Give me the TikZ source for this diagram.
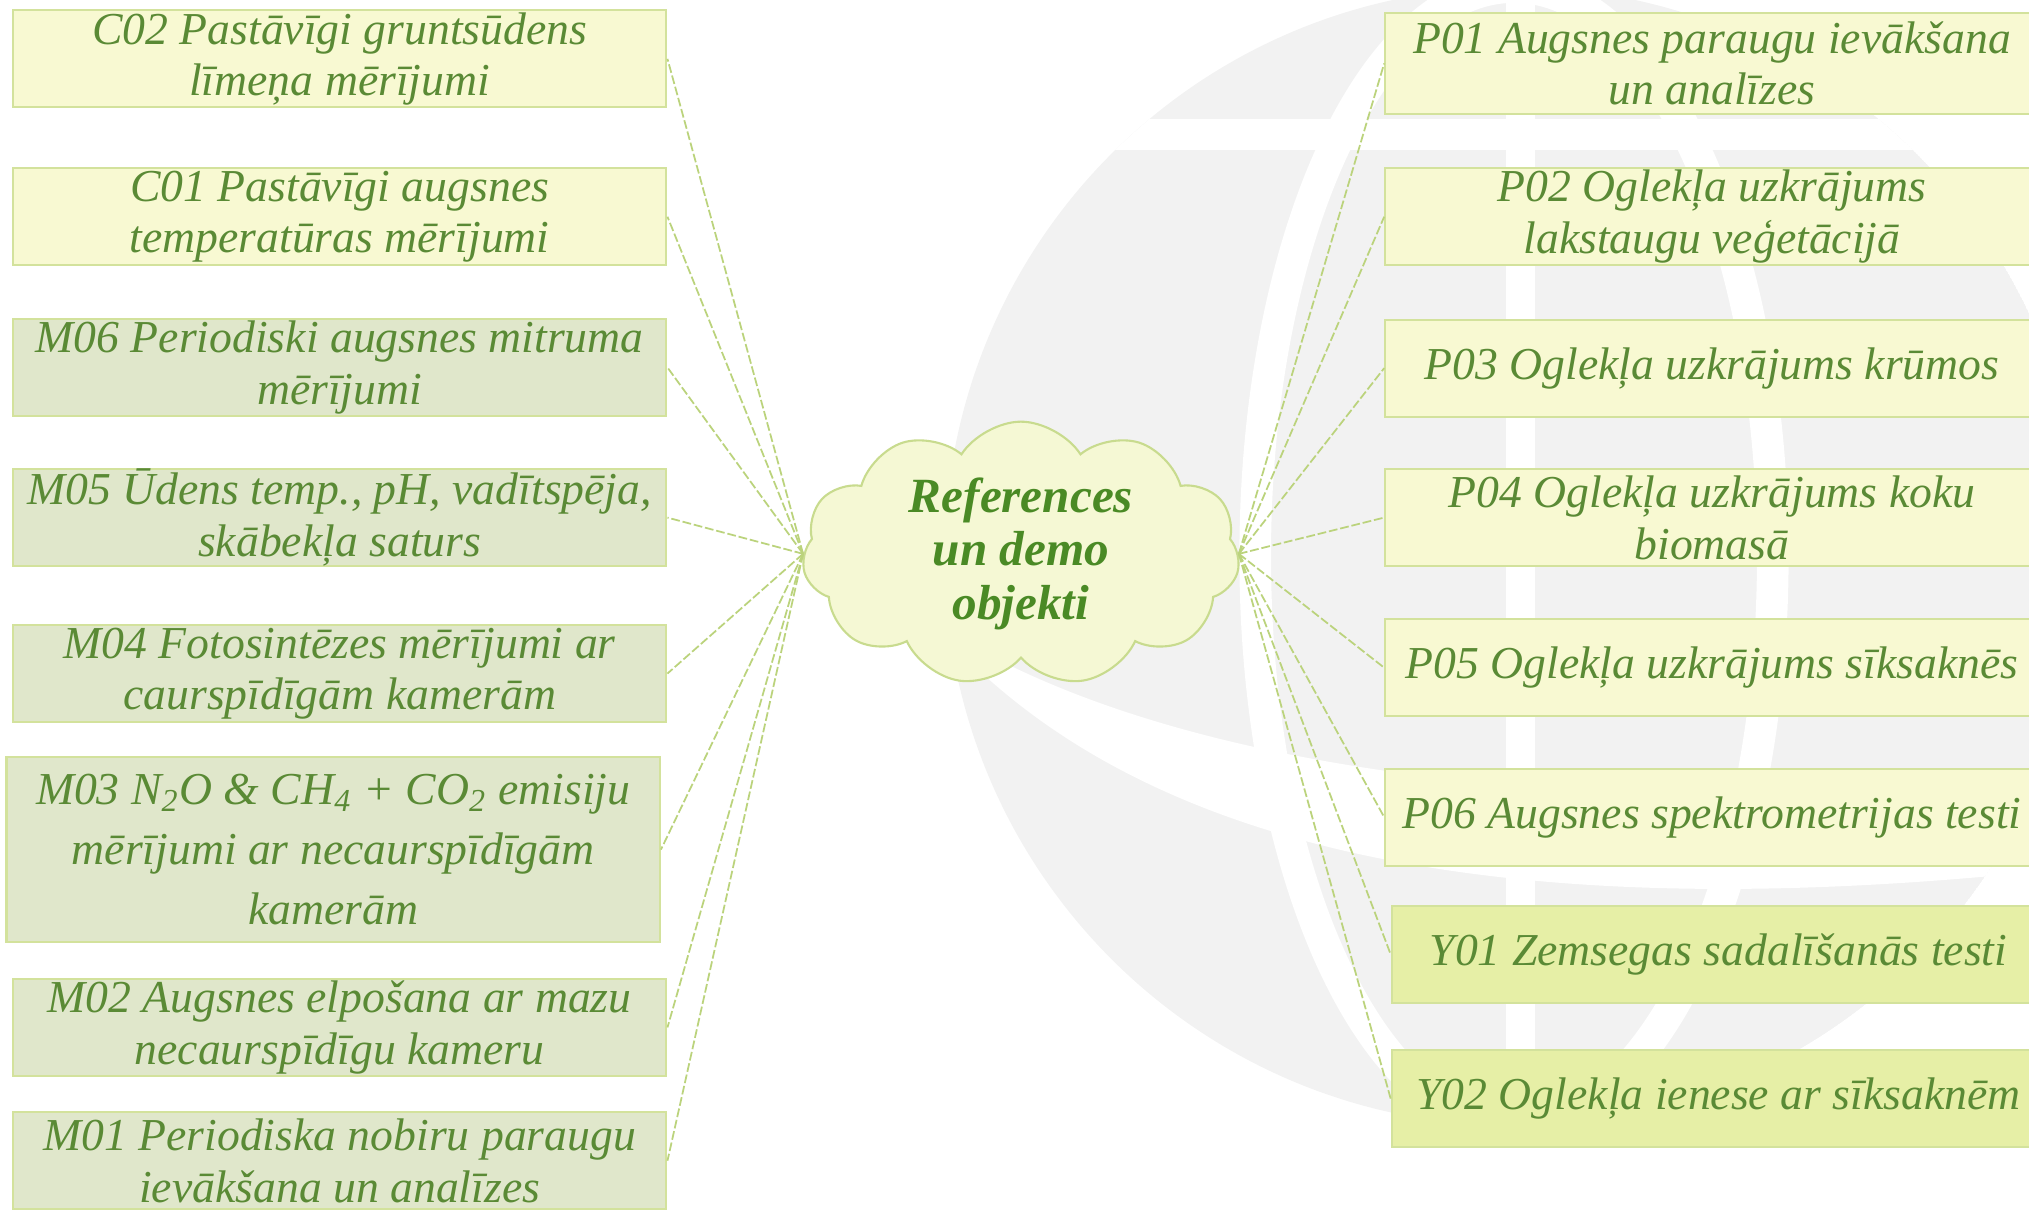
\documentclass[tikz,border=0pt]{standalone}
\usepackage{fontspec}
\setmainfont{Liberation Serif}
\usetikzlibrary{shapes.symbols}
\definecolor{txt}{HTML}{5A8A35}
\definecolor{cloudtxt}{HTML}{4A8A25}
\definecolor{yfill}{HTML}{F8F9D2}
\definecolor{mfill}{HTML}{E0E7CB}
\definecolor{gfill}{HTML}{E6EFA6}
\definecolor{boxline}{HTML}{D3E29C}
\definecolor{connc}{HTML}{BBD37C}
\definecolor{wm}{HTML}{F2F2F2}
\definecolor{cloudfill}{HTML}{F5F8D4}
\definecolor{cloudline}{HTML}{C8DB8E}
\begin{document}
\begin{tikzpicture}[x=0.01294cm,y=-0.01294cm,
  box/.style={rectangle, draw=boxline, line width=0.6pt, fill=yfill,
    minimum width={505*0.01294cm}, minimum height={75*0.01294cm},
    inner sep=0pt, align=center, text=txt,
    font=\fontsize{13}{14.7}\selectfont\itshape},
  mbox/.style={box, fill=mfill},
  gbox/.style={box, fill=gfill},
  conn/.style={draw=connc, line width=0.5pt, dash pattern=on 2.5pt off 0.8pt},
  cloudst/.style={cloud, cloud puffs=11, cloud puff arc=115, aspect=1.75,
    draw=cloudline, line width=0.6pt, fill=cloudfill,
    minimum width={338*0.01294cm}, minimum height={195*0.01294cm},
    inner sep=0pt, align=center, text=cloudtxt,
    font=\fontsize{14}{15.2}\selectfont\bfseries\itshape}]
\useasboundingbox (0,0) rectangle (1568,935);
% watermark globe
\begin{scope}
  \clip (1170,430) circle [radius=440];
  \fill[wm] (1170,430) circle [radius=440];
  \fill[white] (700,92) rectangle (1650,116);
  \draw[white, line width=9pt] (1170,430) ellipse [x radius=200, y radius=440];
  \draw[white, line width=8pt] (1175,0) -- (1175,935);
  \fill[white] (720,480) .. controls (900,600) and (1250,640) .. (1650,600)
     -- (1650,665) .. controls (1250,715) and (900,690) .. (720,480) -- cycle;
\end{scope}
% nodes
\node[box]  (c02) at (262.5,45.5)  {C02 Pastāvīgi gruntsūdens\\līmeņa mērījumi};
\node[box]  (c01) at (262.5,167.5) {C01 Pastāvīgi augsnes\\temperatūras mērījumi};
\node[mbox] (m06) at (262.5,284)   {M06 Periodiski augsnes mitruma\\mērījumi};
\node[mbox] (m05) at (262.5,400)   {M05 Ūdens temp., pH, vadītspēja,\\skābekļa saturs};
\node[mbox] (m04) at (262.5,520.5) {M04 Fotosintēzes mērījumi ar\\caurspīdīgām kamerām};
\node[mbox, minimum height={143*0.01294cm}, font=\fontsize{13}{17}\selectfont\itshape] (m03) at (257.5,656.5)
  {M03 N\textsubscript{2}O \& CH\textsubscript{4} + CO\textsubscript{2} emisiju\\mērījumi ar necaurspīdīgām\\kamerām};
\node[mbox] (m02) at (262.5,794)   {M02 Augsnes elpošana ar mazu\\necaurspīdīgu kameru};
\node[mbox] (m01) at (262.5,897) {M01 Periodiska nobiru paraugu\\ievākšana un analīzes};

\node[box, minimum height={78*0.01294cm}] (p01) at (1323,49) {P01 Augsnes paraugu ievākšana\\un analīzes};
\node[box]  (p02) at (1323,167.5) {P02 Oglekļa uzkrājums\\lakstaugu veģetācijā};
\node[box]  (p03) at (1323,284.5) {P03 Oglekļa uzkrājums krūmos};
\node[box]  (p04) at (1323,400)   {P04 Oglekļa uzkrājums koku\\biomasā};
\node[box]  (p05) at (1323,516)   {P05 Oglekļa uzkrājums sīksaknēs};
\node[box]  (p06) at (1323,631.5) {P06 Augsnes spektrometrijas testi};
\node[gbox] (y01) at (1328,737.5) {Y01 Zemsegas sadalīšanās testi};
\node[gbox] (y02) at (1328,849)   {Y02 Oglekļa ienese ar sīksaknēm};

\node[cloudst] (cloud) at (789,428) {References\\un demo\\objekti};
% connectors
\foreach \n in {c02,c01,m06,m05,m04,m03,m02,m01}
  \draw[conn] (cloud.west) -- (\n.east);
\foreach \n in {p01,p02,p03,p04,p05,p06,y01,y02}
  \draw[conn] (cloud.east) -- (\n.west);
\end{tikzpicture}
\end{document}
